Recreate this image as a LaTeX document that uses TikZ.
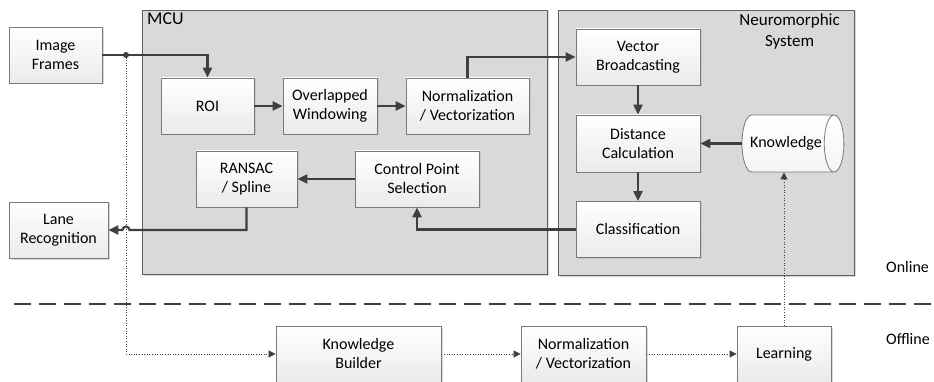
\documentclass[tikz,border=0pt]{standalone}
\usepackage{fontspec}
\setmainfont{Carlito}
\usetikzlibrary{arrows.meta,shapes.geometric,shadows}
\definecolor{linec}{HTML}{3F3F3F}
\definecolor{boxb}{HTML}{7A7A7A}
\definecolor{contb}{HTML}{5F5F5F}
\definecolor{contf}{HTML}{D9D9D9}
\begin{document}
\begin{tikzpicture}[x=1pt,y=-1pt,
  font=\fontsize{16}{19}\selectfont,
  box/.style={draw=boxb, line width=0.8pt, top color=white, bottom color=gray!16,
    minimum height=56pt, align=center, inner sep=2pt,
    drop shadow={shadow xshift=1.5pt, shadow yshift=-1.5pt, fill=gray!60, opacity=0.5}},
  container/.style={draw=contb, line width=0.9pt, fill=contf,
    drop shadow={shadow xshift=1.5pt, shadow yshift=-1.5pt, fill=gray!60, opacity=0.5}},
  arr/.style={draw=linec, line width=2.1pt, -{Triangle[length=10pt,width=9pt]}},
  dotarr/.style={draw=linec, line width=0.6pt, dotted, -{Triangle[length=7pt,width=7pt]}},
  sep/.style={draw=linec, line width=2.6pt, dash pattern=on 17pt off 8pt}
]
\useasboundingbox (0,0) rectangle (934,382);

% containers
\node[container, minimum width=405pt, minimum height=264pt] (mcu) at (344.5,142) {};
\node[container, minimum width=296pt, minimum height=265pt] (neu) at (706,142.5) {};
\node[anchor=north west, inner sep=0pt, font=\fontsize{18}{21}\selectfont] (mcul) at (147,13) {MCU};
\node[anchor=north east, inner sep=0pt, align=center, font=\fontsize{17}{21}\selectfont] (neul) at (840,13) {Neuromorphic\\System};

% boxes
\node[box, minimum width=93pt] (img) at (55.5,55) {Image\\Frames};
\node[box, minimum width=93pt] (roi) at (207.5,106) {ROI};
\node[box, minimum width=94pt] (ovl) at (330,106) {Overlapped\\Windowing};
\node[box, minimum width=123pt] (norm) at (467.5,106) {Normalization\\/ Vectorization};
\node[box, minimum width=101pt] (ransac) at (246.5,179) {RANSAC\\/ Spline};
\node[box, minimum width=124pt] (ctrl) at (417,179) {Control Point\\Selection};
\node[box, minimum width=124pt] (vec) at (638,57) {Vector\\Broadcasting};
\node[box, minimum width=124pt, minimum height=57pt] (dist) at (638,143.5) {Distance\\Calculation};
\node[box, minimum width=124pt] (cls) at (638,229.5) {Classification};
\node[cylinder, shape border rotate=0, aspect=1.1, draw=boxb, line width=0.8pt,
  top color=white, bottom color=gray!8, minimum height=90pt, minimum width=57pt, inner sep=2pt] (know) at (786,143.5) {Knowledge};
\node[box, minimum width=99pt] (lane) at (58.5,230) {Lane\\Recognition};
\node[box, minimum width=165pt] (kb) at (358.5,354) {Knowledge\\Builder};
\node[box, minimum width=125pt] (norm2) at (583.5,354) {Normalization\\/ Vectorization};
\node[box, minimum width=94pt] (learn) at (784,354) {Learning};

% online / offline
\node[anchor=west, inner sep=0pt] (onl) at (886,267) {Online};
\node[anchor=west, inner sep=0pt] (offl) at (886,339) {Offline};

% separator
\coordinate (dl) at (14,304);
\coordinate (dr) at (934,304);
\draw[sep] (dl) -- (dr);

% online arrows
\coordinate (jn) at (126,55);
\draw[arr] (img.east) -| (roi.north);
\fill[linec] (jn) circle (3pt);
\draw[arr] (roi.east) -- (ovl.west);
\draw[arr] (ovl.east) -- (norm.west);
\draw[arr] (norm.north) |- (vec.west);
\draw[arr] (vec.south) -- (dist.north);
\draw[arr] (dist.south) -- (cls.north);
\draw[arr] (know.west) -- (dist.east);
\draw[arr] (cls.west) -| (ctrl.south);
\draw[arr] (ctrl.west) -- (ransac.east);
\coordinate (hop) at (129.5,230);
\draw[arr] (ransac.south) |- (hop) arc[start angle=0, end angle=180, radius=3.5pt] -- (lane.east);

% offline dotted
\coordinate (dcorner) at (126,354);
\draw[dotarr] (jn) -- (dcorner) -- (kb.west);
\draw[dotarr] (kb.east) -- (norm2.west);
\draw[dotarr] (norm2.east) -- (learn.west);
\draw[dotarr] (learn.north) -- (learn.north |- know.south);
\end{tikzpicture}
\end{document}
